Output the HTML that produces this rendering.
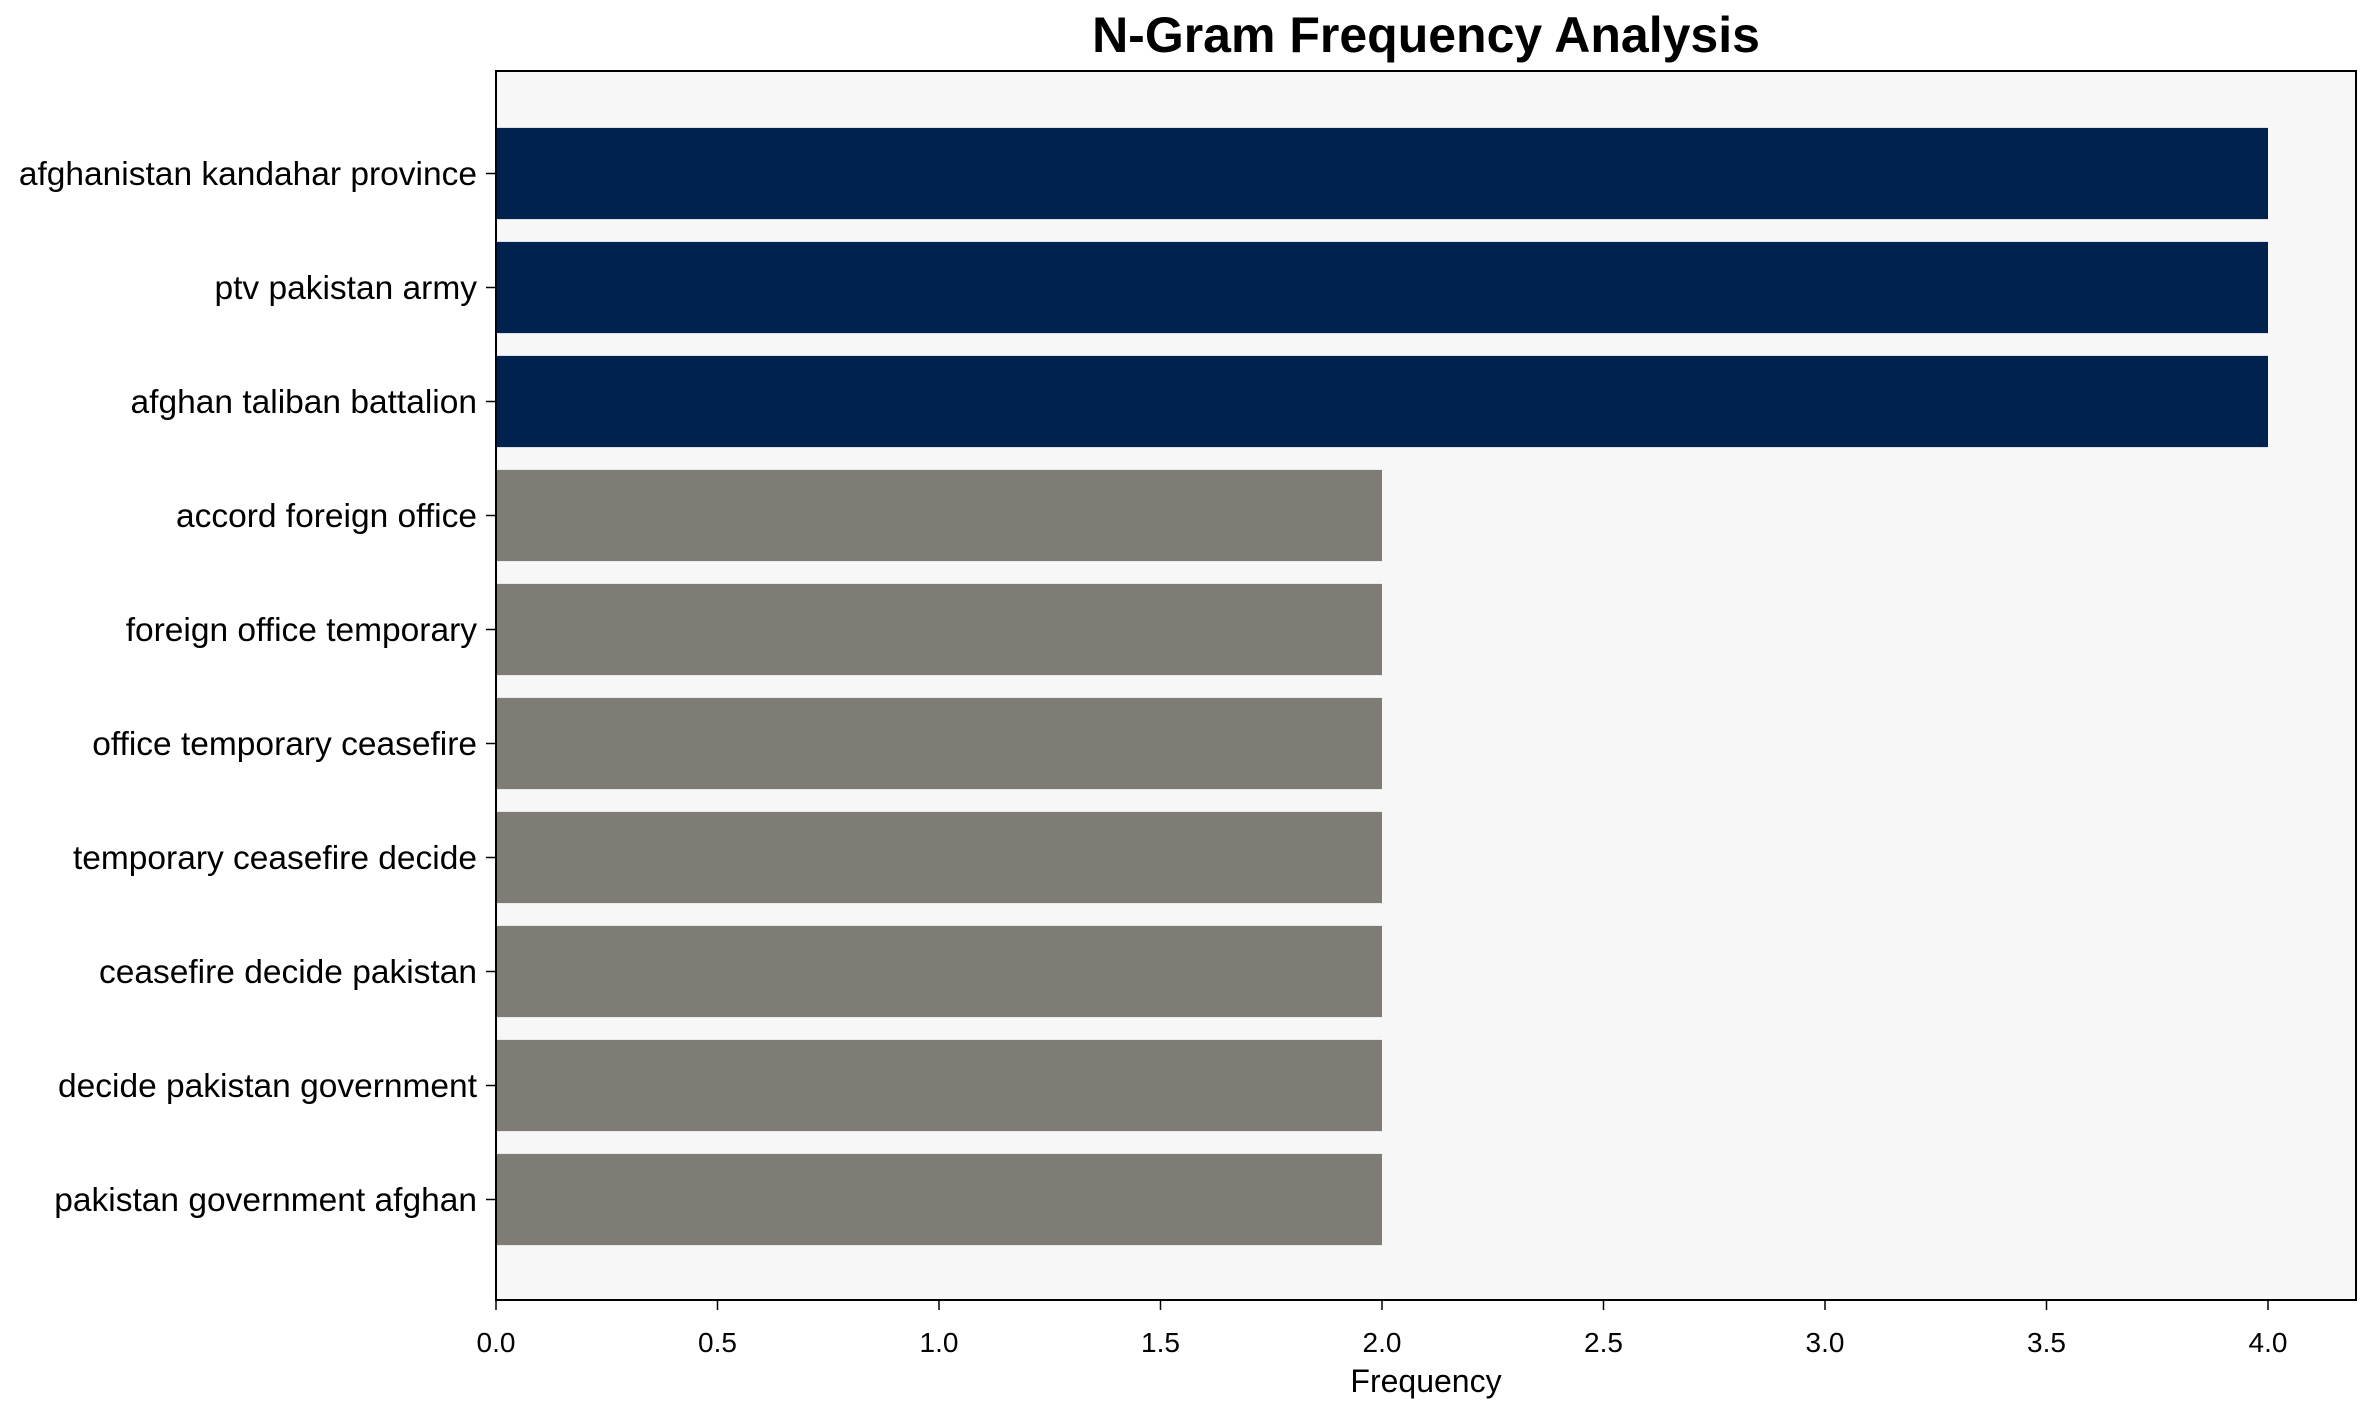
<!DOCTYPE html>
<html><head><meta charset="utf-8"><style>
body{margin:0;background:#fff;}
svg{display:block;font-family:"Liberation Sans",Arial,sans-serif;}
</style></head><body>
<svg width="2375" height="1414" viewBox="0 0 2375 1414" xmlns="http://www.w3.org/2000/svg">
<rect x="0" y="0" width="2375" height="1414" fill="#fff"/>
<rect x="496" y="71" width="1860" height="1229" fill="#f7f7f7"/>
<g>
<rect x="496" y="127.9" width="1772" height="91.2" fill="#00224e"/>
<rect x="496" y="241.9" width="1772" height="91.2" fill="#00224e"/>
<rect x="496" y="355.9" width="1772" height="91.2" fill="#00224e"/>
<rect x="496" y="469.9" width="886" height="91.2" fill="#7f7c75"/>
<rect x="496" y="583.9" width="886" height="91.2" fill="#7f7c75"/>
<rect x="496" y="697.9" width="886" height="91.2" fill="#7f7c75"/>
<rect x="496" y="811.9" width="886" height="91.2" fill="#7f7c75"/>
<rect x="496" y="925.9" width="886" height="91.2" fill="#7f7c75"/>
<rect x="496" y="1039.9" width="886" height="91.2" fill="#7f7c75"/>
<rect x="496" y="1153.9" width="886" height="91.2" fill="#7f7c75"/>
</g>
<g stroke="#000" stroke-width="1.5">
<line x1="486" x2="496" y1="173.5" y2="173.5"/>
<line x1="486" x2="496" y1="287.5" y2="287.5"/>
<line x1="486" x2="496" y1="401.5" y2="401.5"/>
<line x1="486" x2="496" y1="515.5" y2="515.5"/>
<line x1="486" x2="496" y1="629.5" y2="629.5"/>
<line x1="486" x2="496" y1="743.5" y2="743.5"/>
<line x1="486" x2="496" y1="857.5" y2="857.5"/>
<line x1="486" x2="496" y1="971.5" y2="971.5"/>
<line x1="486" x2="496" y1="1085.5" y2="1085.5"/>
<line x1="486" x2="496" y1="1199.5" y2="1199.5"/>
<line x1="496" x2="496" y1="1300" y2="1310"/>
<line x1="717.5" x2="717.5" y1="1300" y2="1310"/>
<line x1="939" x2="939" y1="1300" y2="1310"/>
<line x1="1160.5" x2="1160.5" y1="1300" y2="1310"/>
<line x1="1382" x2="1382" y1="1300" y2="1310"/>
<line x1="1603.5" x2="1603.5" y1="1300" y2="1310"/>
<line x1="1825" x2="1825" y1="1300" y2="1310"/>
<line x1="2046.5" x2="2046.5" y1="1300" y2="1310"/>
<line x1="2268" x2="2268" y1="1300" y2="1310"/>
</g>
<g font-size="33.5" text-anchor="end" fill="#000">
<text x="477" y="185">afghanistan kandahar province</text>
<text x="477" y="299">ptv pakistan army</text>
<text x="477" y="413">afghan taliban battalion</text>
<text x="477" y="527">accord foreign office</text>
<text x="477" y="641">foreign office temporary</text>
<text x="477" y="755">office temporary ceasefire</text>
<text x="477" y="869">temporary ceasefire decide</text>
<text x="477" y="983">ceasefire decide pakistan</text>
<text x="477" y="1097">decide pakistan government</text>
<text x="477" y="1211">pakistan government afghan</text>
</g>
<g font-size="28" text-anchor="middle" fill="#000">
<text x="496" y="1352">0.0</text>
<text x="717.5" y="1352">0.5</text>
<text x="939" y="1352">1.0</text>
<text x="1160.5" y="1352">1.5</text>
<text x="1382" y="1352">2.0</text>
<text x="1603.5" y="1352">2.5</text>
<text x="1825" y="1352">3.0</text>
<text x="2046.5" y="1352">3.5</text>
<text x="2268" y="1352">4.0</text>
</g>
<rect x="496" y="71" width="1860" height="1229" fill="none" stroke="#000" stroke-width="2"/>
<text x="1426" y="52" font-size="50" font-weight="bold" text-anchor="middle" fill="#000">N-Gram Frequency Analysis</text>
<text x="1426" y="1392" font-size="32" text-anchor="middle" fill="#000">Frequency</text>
</svg>
</body></html>
